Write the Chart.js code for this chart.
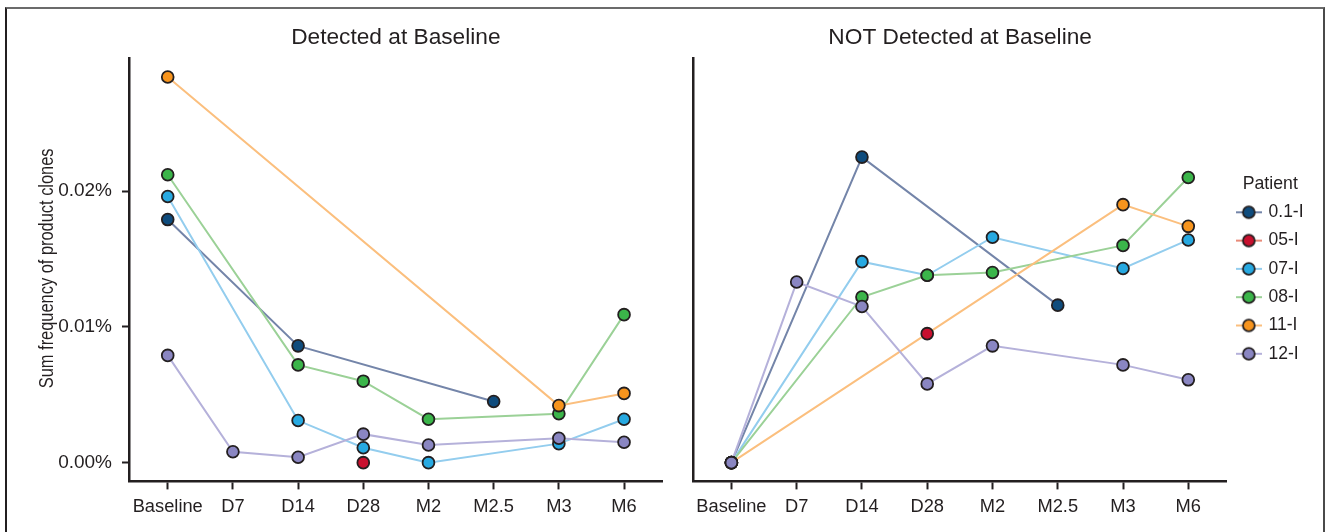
<!DOCTYPE html>
<html>
<head>
<meta charset="utf-8">
<script src="https://cdn.jsdelivr.net/npm/chart.js@4.4.1/dist/chart.umd.min.js"></script>
<style>
  html, body { margin: 0; padding: 0; background: #fff; }
  #frame { position: absolute; left: 5px; top: 7px; width: 1320px; height: 540px; box-sizing: border-box;
           border-top: 2px solid #6b6b6b; border-left: 2px solid #231f20; border-right: 2px solid #4a4a4a; }
  #left { position: absolute; left: 0; top: 0; }
  #right { position: absolute; left: 680px; top: 0; }
</style>
</head>
<body>
<div id="frame"></div>
<canvas id="left" width="680" height="532"></canvas>
<canvas id="right" width="645" height="532"></canvas>
<script>
const timepoints = ['Baseline', 'D7', 'D14', 'D28', 'M2', 'M2.5', 'M3', 'M6'];
const patients = ['0.1-I', '05-I', '07-I', '08-I', '11-I', '12-I'];
const pointColors = ['#0f4c7d', '#c8102e', '#27a9e1', '#3bb54a', '#f7941d', '#8a86c2'];
const lineColors = ['#7485a9', '#e88a78', '#93cdee', '#9bd197', '#fbbf7e', '#b5b1da'];

const yTickValues = [0, 0.01, 0.02];
const yTickLabels = ['0.00%', '0.01%', '0.02%'];
const yTitle = 'Sum frequency of product clones';

// sum frequency of product clones (%), null = no sample at that timepoint
// clones detected at baseline
const det01 = [0.0179, null, 0.0086, null, null, 0.0045, null, null];
const det05 = [null, null, null, 0, null, null, null, null];
const det07 = [0.0196, null, 0.0031, 0.0011, 0, null, 0.0014, 0.0032];
const det08 = [0.0212, null, 0.0072, 0.0060, 0.0032, null, 0.0036, 0.0109];
const det11 = [0.0284, null, null, null, null, null, 0.0042, 0.0051];
const det12 = [0.0079, 0.0008, 0.0004, 0.0021, 0.0013, null, 0.0018, 0.0015];

// clones not detected at baseline
const not01 = [0, null, 0.0225, null, null, 0.0116, null, null];
const not05 = [null, null, null, 0.0095, null, null, null, null];
const not07 = [0, null, 0.0148, 0.0138, 0.0166, null, 0.0143, 0.0164];
const not08 = [0, null, 0.0122, 0.0138, 0.0140, null, 0.0160, 0.0210];
const not11 = [0, null, null, null, null, null, 0.0190, 0.0174];
const not12 = [0, 0.0133, 0.0115, 0.0058, 0.0086, null, 0.0072, 0.0061];

const ink = '#231f20';
Chart.defaults.font.family = "'Liberation Sans', Arial, Helvetica, sans-serif";
Chart.defaults.color = ink;

function legendIcon(i) {
    const c = document.createElement('canvas');
    c.width = 26;
    c.height = 16;
    const g = c.getContext('2d');
    g.strokeStyle = lineColors[i];
    g.lineWidth = 2;
    g.beginPath(); g.moveTo(0, 8); g.lineTo(26, 8); g.stroke();
    g.beginPath(); g.arc(13, 8, 5.9, 0, Math.PI * 2);
    g.fillStyle = pointColors[i];
    g.fill();
    g.strokeStyle = ink;
    g.lineWidth = 1.8;
    g.stroke();
    return c;
}
const icons = patients.map((p, i) => legendIcon(i));

// y axis title in a condensed face (no narrow font installed, so squeeze it)
const condensedYTitle = {
    id: 'condensedYTitle',
    afterDraw(chart) {
        const { ctx, chartArea } = chart;
        ctx.save();
        ctx.translate(53.3, (chartArea.top + chartArea.bottom) / 2 - 1.5);
        ctx.rotate(-Math.PI / 2);
        ctx.scale(0.82, 1);
        ctx.font = "20px 'Liberation Sans', Arial, sans-serif";
        ctx.fillStyle = ink;
        ctx.textAlign = 'center';
        ctx.textBaseline = 'alphabetic';
        ctx.fillText(yTitle, 0, 0);
        ctx.restore();
    }
};

function buildDatasets(series) {
    const toXY = vals => vals.map((v, k) => ({ x: k, y: v }));
    // lines first (underneath), then all points on top
    const lines = series.map((vals, i) => ({
        label: patients[i] + ' line',
        data: toXY(vals),
        borderColor: lineColors[i],
        borderWidth: 2,
        pointRadius: 0,
        spanGaps: true,
        tension: 0,
        order: 20 - i
    }));
    const points = series.map((vals, i) => ({
        label: patients[i],
        data: toXY(vals),
        showLine: false,
        pointRadius: 5.9,
        pointBackgroundColor: pointColors[i],
        backgroundColor: pointColors[i],
        pointBorderColor: ink,
        borderColor: ink,
        pointBorderWidth: 1.8,
        iconIndex: i,
        order: 10 - i
    }));
    return lines.concat(points);
}

function xScale(min, max) {
    return {
        type: 'linear',
        min: min,
        max: max,
        afterBuildTicks: s => { s.ticks = timepoints.map((t, k) => ({ value: k })); },
        afterFit: s => { s.height = 50.6; },
        ticks: {
            callback: v => timepoints[v],
            font: { size: 18.3 },
            color: ink,
            padding: 6.5,
            autoSkip: false,
            maxRotation: 0
        },
        grid: { drawOnChartArea: false, tickLength: 8, tickWidth: 2, tickColor: ink },
        border: { display: true, color: ink, width: 2.5 }
    };
}

const yMin = -0.00138;
const yMax = 0.02978;

function panelTitle(text) {
    return {
        display: true,
        text: text,
        fullSize: false,
        color: ink,
        font: { size: 22.7, weight: 'normal' },
        padding: { top: 14.2, bottom: 6.8 }
    };
}

new Chart(document.getElementById('left'), {
    type: 'line',
    data: { datasets: buildDatasets([det01, det05, det07, det08, det11, det12]) },
    plugins: [condensedYTitle],
    options: {
        responsive: false,
        animation: false,
        events: [],
        layout: { padding: { top: 10, left: 0, right: 17.3, bottom: 0 } },
        plugins: {
            title: panelTitle('Detected at Baseline'),
            legend: { display: false },
            tooltip: { enabled: false }
        },
        scales: {
            x: xScale(-0.594, 7.593),
            y: {
                type: 'linear',
                min: yMin,
                max: yMax,
                afterBuildTicks: s => { s.ticks = yTickValues.map(v => ({ value: v })); },
                afterFit: s => { s.width = 129; },
                ticks: {
                    callback: (v, i) => yTickLabels[i],
                    font: { size: 19 },
                    color: ink,
                    padding: 10
                },
                grid: { drawOnChartArea: false, tickLength: 7, tickWidth: 2, tickColor: ink },
                border: { display: true, color: ink, width: 2.5 }
            }
        }
    }
});

new Chart(document.getElementById('right'), {
    type: 'line',
    data: { datasets: buildDatasets([not01, not05, not07, not08, not11, not12]) },
    options: {
        responsive: false,
        animation: false,
        events: [],
        layout: { padding: { top: 10, left: 0, right: 11.45, bottom: 0 } },
        plugins: {
            title: panelTitle('NOT Detected at Baseline'),
            tooltip: { enabled: false },
            legend: {
                position: 'right',
                align: 'center',
                title: {
                    display: true,
                    text: 'Patient',
                    color: ink,
                    position: 'center',
                    font: { size: 17.7 },
                    padding: { top: 6.8, bottom: -4 }
                },
                labels: {
                    usePointStyle: true,
                    pointStyleWidth: 22,
                    padding: 10.8,
                    color: ink,
                    font: { size: 17.5 },
                    filter: (item, data) => data.datasets[item.datasetIndex].showLine === false,
                    sort: (a, b) => a.datasetIndex - b.datasetIndex,
                    generateLabels: function (chart) {
                        const items = Chart.defaults.plugins.legend.labels.generateLabels(chart);
                        items.forEach(it => {
                            const ds = chart.data.datasets[it.datasetIndex];
                            if (ds.iconIndex !== undefined) it.pointStyle = icons[ds.iconIndex];
                        });
                        return items;
                    }
                }
            }
        },
        scales: {
            x: xScale(-0.584, 7.593),
            y: {
                type: 'linear',
                min: yMin,
                max: yMax,
                afterFit: s => { s.width = 13.3; },
                ticks: { display: false },
                grid: { display: false },
                border: { display: true, color: ink, width: 2.5 }
            }
        }
    }
});
</script>
</body>
</html>
